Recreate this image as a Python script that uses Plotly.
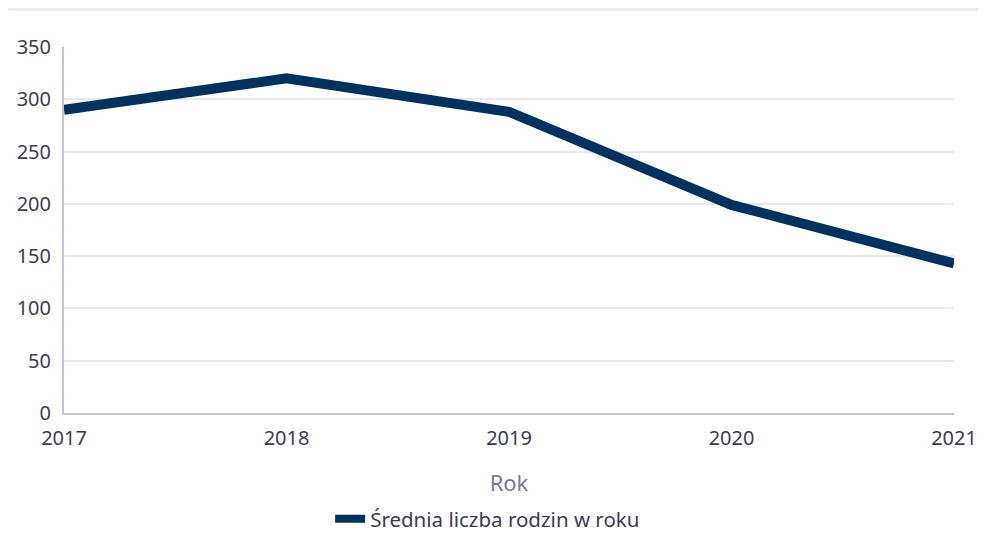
import plotly.graph_objects as go

years = ["2017", "2018", "2019", "2020", "2021"]
values = [290, 320, 288, 199, 143]
series_name = "Średnia liczba rodzin w roku"
y_ticks = [0, 50, 100, 150, 200, 250, 300, 350]

line_color = "#00325f"
font_family = "Noto Sans, Open Sans, sans-serif"
tick_color = "#3d3d55"

W, H = 970, 526
L, R, T, B = 56, 24, 39, 121
PW, PH = W - L - R, H - T - B

fig = go.Figure()
fig.add_trace(go.Scatter(
    x=years, y=values, mode="lines", name=series_name,
    line=dict(color=line_color, width=10), showlegend=False,
))
fig.add_trace(go.Scatter(
    x=[None], y=[None], mode="lines", name=series_name,
    line=dict(color=line_color, width=8), showlegend=True,
))

fig.update_layout(
    width=W, height=H,
    margin=dict(l=L, r=R, t=T, b=B, autoexpand=False),
    paper_bgcolor="white", plot_bgcolor="white",
    font=dict(family=font_family, size=20, color=tick_color),
    xaxis=dict(
        type="category", range=[0, 4], showgrid=False, automargin=False,
        showline=True, linecolor="#c4c4d4", linewidth=2,
        ticks="", tickfont=dict(size=20, color=tick_color),
        ticklabelstandoff=6,
        title=dict(text="Rok", font=dict(size=22, color="#7a7a9e"), standoff=26),
        zeroline=False,
    ),
    yaxis=dict(
        range=[0, 350], tickvals=y_ticks, showgrid=True, automargin=False,
        gridcolor="#e8e8f0", gridwidth=1.5,
        showline=True, linecolor="#c4c4d4", linewidth=2,
        ticks="", tickfont=dict(size=20, color=tick_color),
        zeroline=False, ticklabelstandoff=7,
    ),
    legend=dict(
        orientation="h", x=0.476, xanchor="center",
        y=-(511 - (T + PH)) / PH, yanchor="middle",
        font=dict(size=20.5, color=tick_color), itemwidth=30,
    ),
    shapes=[dict(
        type="line", xref="paper", yref="paper",
        x0=-L / PW, x1=1 + R / PW, y0=1 + (T - 1.5) / PH, y1=1 + (T - 1.5) / PH,
        line=dict(color="#ebebf0", width=3),
    )],
)

fig.write_html("out.html")
